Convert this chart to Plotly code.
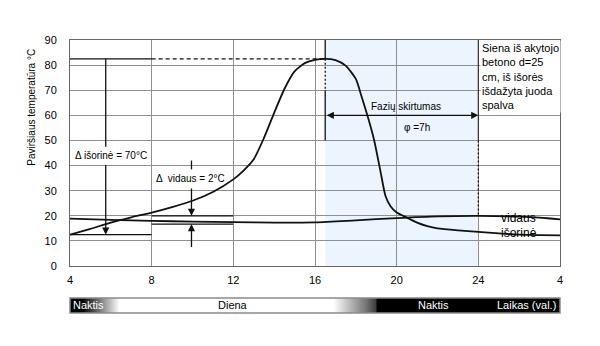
import plotly.graph_objects as go

# Outer (sun-facing) surface temperature over one day, hours 4..28 (28 = 4 next morning)
hours_out = [4, 5, 6, 7, 8, 9, 10, 11, 12, 12.5, 13, 13.5, 14, 14.5, 15, 15.5, 16, 16.5,
             17, 17.5, 18, 18.3, 18.6, 18.9, 19.2, 19.45, 19.7, 20, 20.5, 21, 21.5, 22,
             23, 24, 25, 26, 27, 28]
temp_out = [12.5, 14.8, 17.3, 19.4, 21.3, 23.5, 26.0, 29.5, 34.5, 38.0, 42.5, 51.0, 61.0,
            70.5, 77.5, 80.8, 82.1, 82.5, 82.0, 79.8, 74.5, 67.0, 59.0, 50.0, 38.0, 28.0,
            23.8, 21.3, 19.3, 17.3, 15.9, 15.0, 14.2, 13.6, 13.0, 12.5, 12.3, 12.2]

# Inner surface temperature
hours_in = [4, 6, 8, 10, 12, 14, 16, 18, 20, 22, 24, 26, 27, 28]
temp_in = [18.9, 18.4, 18.0, 17.7, 17.5, 17.3, 17.4, 18.2, 19.1, 19.8, 20.0, 19.7, 19.3, 18.6]

x_tickvals = [4, 8, 12, 16, 20, 24, 28]
x_ticktext = ["4", "8", "12", "16", "20", "24", "4"]
y_tickvals = [0, 10, 20, 30, 40, 50, 60, 70, 80, 90]

# Key readings used for the annotations
peak_hour = 16.5
peak_temp = 82.5
outer_min = 12.5          # 82.5 - 12.5 = 70 °C swing
phase_end = 24
inner_upper = 20.0
inner_lower = 16.7

# Day / night band brightness (0 = black, 1 = white) along the time axis
band_hours = [4, 4.6, 6.4, 16.9, 18.5, 18.95, 19.05, 28]
band_level = [0, 0, 1, 1, 0.45, 0.25, 0, 0]

FONT = "Arial, Liberation Sans, sans-serif"
GRID = "#8f8f8f"
INK = "#111111"

fig = go.Figure()

fig.add_trace(go.Scatter(x=hours_out, y=temp_out, mode="lines",
                         line=dict(color=INK, width=1.8, shape="spline", smoothing=0.6),
                         hoverinfo="skip", showlegend=False))
fig.add_trace(go.Scatter(x=hours_in, y=temp_in, mode="lines",
                         line=dict(color=INK, width=1.8, shape="spline", smoothing=0.8),
                         hoverinfo="skip", showlegend=False))

# Gradient band under the chart
fig.add_trace(go.Heatmap(x=band_hours, y=[0, 1], z=[band_level, band_level],
                         colorscale=[[0, "black"], [1, "white"]], zmin=0, zmax=1,
                         zsmooth="best", showscale=False, hoverinfo="skip",
                         xaxis="x2", yaxis="y2"))

shapes = []
# shaded phase-shift window
shapes.append(dict(type="rect", xref="x", yref="y", x0=peak_hour, x1=phase_end, y0=0, y1=90,
                   fillcolor="#ecf5fd", line=dict(width=0), layer="below"))


def seg(x0, y0, x1, y1, dash="solid", width=1.3, color=INK):
    shapes.append(dict(type="line", xref="x", yref="y", x0=x0, y0=y0, x1=x1, y1=y1,
                       line=dict(color=color, width=width, dash=dash)))


# peak level
seg(4, peak_temp, 8, peak_temp)
seg(8, peak_temp, peak_hour, peak_temp, dash="4px,3px")
# vertical through the peak
seg(peak_hour, 90, peak_hour, peak_temp)
seg(peak_hour, peak_temp, peak_hour, 70, dash="2px,2px")
seg(peak_hour, 70, peak_hour, 50)
# vertical at the inner maximum
seg(phase_end, 90, phase_end, 50, color="#333333", width=1.2)
seg(phase_end, 50, phase_end, 20, dash="2px,2px")
# outer amplitude bracket
seg(4, outer_min, 8, outer_min)
seg(5.75, peak_temp, 5.75, 47.5)
# inner amplitude bracket
seg(8, inner_upper, 12, inner_upper)
seg(8, inner_lower, 12, inner_lower)
seg(9.95, 42, 9.95, 38.5)
# band border
shapes.append(dict(type="rect", xref="x2 domain", yref="y2 domain", x0=0, x1=1, y0=0, y1=1,
                   line=dict(color="#8a8a8a", width=1.5)))

annotations = []


def arrow(x, y, ax, ay, side="end"):
    annotations.append(dict(x=x, y=y, ax=ax, ay=ay, xref="x", yref="y", axref="x", ayref="y",
                            text="", showarrow=True, arrowhead=2, arrowsize=1.1,
                            arrowwidth=1.3, arrowcolor=INK, arrowside=side,
                            standoff=0, startstandoff=0))


arrow(5.75, outer_min, 5.75, 40.8)
arrow(9.95, inner_upper, 9.95, 31.5)
arrow(9.95, inner_lower, 9.95, 7)
arrow(phase_end, 60, peak_hour, 60, side="end+start")


def label(x, y, text, size=10, xanchor="center", yanchor="middle", color="#000", **kw):
    annotations.append(dict(x=x, y=y, xref=kw.pop("xref", "x"), yref=kw.pop("yref", "y"),
                            text=text, showarrow=False, xanchor=xanchor, yanchor=yanchor,
                            font=dict(family=FONT, size=size, color=color), **kw))


label(6.0, 44.2, "Δ išorinė = 70°C")
label(8.1, 35, "Δ  vidaus = 2°C", xanchor="left")
label(20.45, 63.5, "Fazių skirtumas")
label(21.0, 55, "φ =7h")
label(24.1, 90, "Siena iš akytojo<br>betono d=25<br>cm, iš išorės<br>išdažyta juoda<br>spalva",
      size=11, xanchor="left", yanchor="top", align="left", bgcolor="white", borderpad=1)
label(25.0, 19.3, "vidaus", size=12, xanchor="left")
label(25.0, 13.2, "išorinė", size=12, xanchor="left")

# band captions
label(4.05, 0.5, "Naktis", size=11, xanchor="left", color="white", xref="x2", yref="y2")
label(12.0, 0.5, "Diena", size=11, color="black", xref="x2", yref="y2")
label(21.8, 0.5, "Naktis", size=11, color="white", xref="x2", yref="y2")
label(27.9, 0.5, "Laikas (val.)", size=11, xanchor="right", color="white", xref="x2", yref="y2")

# rotated axis title
annotations.append(dict(x=-0.078, y=0.755, xref="paper", yref="paper", text="Paviršiaus temperatūra °C",
                        textangle=-90, showarrow=False, xanchor="center", yanchor="middle",
                        font=dict(family=FONT, size=10, color="#000")))

fig.update_layout(
    width=600, height=346,
    margin=dict(l=70, r=40, t=40, b=33),
    paper_bgcolor="white", plot_bgcolor="white",
    font=dict(family=FONT, size=11, color="#000"),
    showlegend=False,
    shapes=shapes, annotations=annotations,
    xaxis=dict(range=[4, 28], domain=[0, 1], anchor="y", tickvals=x_tickvals, ticktext=x_ticktext,
               showgrid=True, gridcolor=GRID, gridwidth=1, zeroline=False,
               showline=True, linecolor="#666666", linewidth=1, mirror=True,
               ticks="", ticklabelstandoff=4, fixedrange=True),
    yaxis=dict(range=[0, 90], domain=[0.172, 1], anchor="x", tickvals=y_tickvals,
               showgrid=True, gridcolor=GRID, gridwidth=1, zeroline=False,
               showline=True, linecolor="#666666", linewidth=1, mirror=True,
               ticks="", ticklabelstandoff=10, fixedrange=True),
    xaxis2=dict(range=[4, 28], domain=[0, 1], anchor="y2", visible=False, fixedrange=True),
    yaxis2=dict(range=[0, 1], domain=[0, 0.055], anchor="x2", visible=False, fixedrange=True),
)

fig.write_html("out.html", config=dict(displayModeBar=False))
